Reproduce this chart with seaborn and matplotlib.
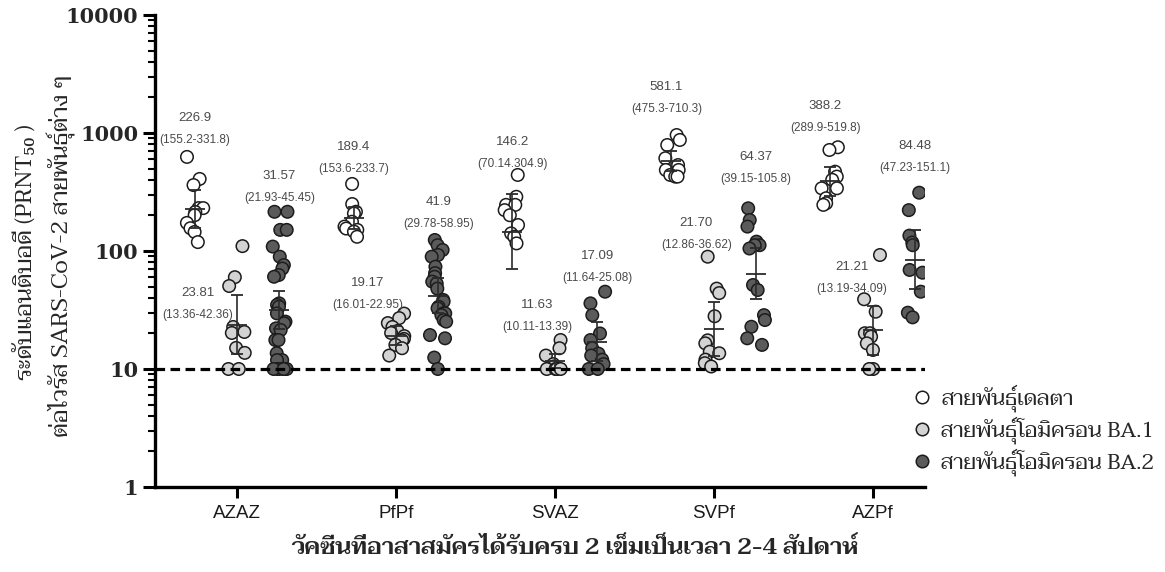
import numpy as np
import pandas as pd
import matplotlib
matplotlib.use("Agg")
import matplotlib.pyplot as plt
import seaborn as sns
from matplotlib import font_manager as fm
from matplotlib.ft2font import FT2Font
from matplotlib.font_manager import FontProperties
from matplotlib.ticker import FixedLocator, LogLocator, NullFormatter

# ---------------- data ----------------
groups = ["AZAZ", "PfPf", "SVAZ", "SVPf", "AZPf"]
strains = ["สายพันธุ์เดลตา", "สายพันธุ์โอมิครอน BA.1", "สายพันธุ์โอมิครอน BA.2"]

delta_AZAZ = [627, 408, 362, 231, 231, 214, 201, 173, 156, 145, 119]
ba1_AZAZ = [110, 60, 50.5, 22.7, 20.6, 20.2, 15.1, 13.7, 10, 10]
ba2_AZAZ = [215, 215, 151, 151, 109, 89.5, 76, 71, 62.6, 60.5, 36, 34.9, 33.7, 29.6,
            25.2, 24.4, 22.1, 21.4, 17.6, 17.6, 13.6, 11.9, 11.9, 10, 10, 10, 10, 10, 10]
delta_PfPf = [370, 250, 215, 208, 177, 161, 155, 151, 146, 132]
ba1_PfPf = [29.5, 27, 24.5, 22.7, 21, 20.2, 19, 18, 17.5, 16, 15, 13]
ba2_PfPf = [124, 112, 102, 92.5, 89.5, 73.6, 65, 60.5, 55, 53, 48, 38.5, 37.2, 33.7,
            32.7, 29.6, 29.6, 28.6, 26, 25.2, 19.4, 18.2, 12.5, 10]
delta_SVAZ = [441, 288, 246, 246, 222, 201, 166, 141, 132, 116]
ba1_SVAZ = [17.6, 15, 13, 11, 10.5, 10, 10, 10, 10]
ba2_SVAZ = [45.2, 36, 28.6, 20, 17.6, 15, 13.5, 13, 12, 11, 10, 10]
delta_SVPf = [961, 873, 791, 611, 535, 486, 486, 441, 427, 427]
ba1_SVPf = [89.5, 48, 44, 28, 17.5, 16.5, 14, 13.6, 12, 11.2, 10.5]
ba2_SVPf = [230, 183, 161, 120, 112, 112, 105, 51.5, 46.7, 28.6, 26, 22.8, 18.2, 16]
delta_AZPf = [757, 718, 470, 427, 401, 340, 340, 280, 254, 246]
ba1_AZPf = [92.5, 39, 30.6, 20.1, 20.1, 18.8, 16.5, 14.5, 10, 10]
ba2_AZPf = [312, 222, 135, 118, 112, 69.1, 65.5, 45.2, 30, 27.4]

# geometric mean titres and 95% CI (as printed)
gmt_delta = [226.9, 189.4, 146.2, 581.1, 388.2]
lo_delta = [155.2, 153.6, 70.14, 475.3, 289.9]
hi_delta = [331.8, 233.7, 304.9, 710.3, 519.8]
gmt_ba1 = [23.81, 19.17, 11.63, 21.70, 21.21]
lo_ba1 = [13.36, 16.01, 10.11, 12.86, 13.19]
hi_ba1 = [42.36, 22.95, 13.39, 36.62, 34.09]
gmt_ba2 = [31.57, 41.9, 17.09, 64.37, 84.48]
lo_ba2 = [21.93, 29.78, 11.64, 39.15, 47.23]
hi_ba2 = [45.45, 58.95, 25.08, 105.8, 151.1]

gmt_text_delta = ["226.9", "189.4", "146.2", "581.1", "388.2"]
ci_text_delta = ["(155.2-331.8)", "(153.6-233.7)", "(70.14.304.9)", "(475.3-710.3)", "(289.9-519.8)"]
gmt_text_ba1 = ["23.81", "19.17", "11.63", "21.70", "21.21"]
ci_text_ba1 = ["(13.36-42.36)", "(16.01-22.95)", "(10.11-13.39)", "(12.86-36.62)", "(13.19-34.09)"]
gmt_text_ba2 = ["31.57", "41.9", "17.09", "64.37", "84.48"]
ci_text_ba2 = ["(21.93-45.45)", "(29.78-58.95)", "(11.64-25.08)", "(39.15-105.8)", "(47.23-151.1)"]

ytick_vals = [1, 10, 100, 1000, 10000]
ytick_labels = ["1", "10", "100", "1000", "10000"]
threshold = 10

ylabel_1 = "ระดับแอนติบอดี (PRNT₅₀ )"
ylabel_2 = "ต่อไวรัส SARS-CoV-2 สายพันธุ์ต่าง ๆ"
xlabel = "วัคซีนที่อาสาสมัครได้รับครบ 2 เข็มเป็นเวลา 2-4 สัปดาห์"

# ---------------- layout (not data) ----------------
lab_y = [[1340, 760, 839, 2455, 1694],
         [44.1, 53.6, 34.8, 173, 73.1],
         [432, 260, 90.8, 626, 776]]
lab_dx = [[0, 0, 0, -0.03, -0.03],
          [-0.245, -0.18, -0.11, -0.11, -0.13],
          [0, 0, 0, 0, 0]]
colors = ["#ffffff", "#d3d3d3", "#5b5b5b"]

# ---------------- build table ----------------
series = {
    strains[0]: [delta_AZAZ, delta_PfPf, delta_SVAZ, delta_SVPf, delta_AZPf],
    strains[1]: [ba1_AZAZ, ba1_PfPf, ba1_SVAZ, ba1_SVPf, ba1_AZPf],
    strains[2]: [ba2_AZAZ, ba2_PfPf, ba2_SVAZ, ba2_SVPf, ba2_AZPf],
}
rows = []
for s in strains:
    for g, vals in zip(groups, series[s]):
        for v in vals:
            rows.append({"group": g, "strain": s, "titre": v})
df = pd.DataFrame(rows)

# ---------------- fonts ----------------
sns.set_theme(style="ticks")


def font_has(path, text):
    try:
        cmap = FT2Font(path).get_charmap()
    except Exception:
        return False
    return all(ord(c) in cmap for c in text if not c.isspace())


thai_names = []
for fe in fm.fontManager.ttflist:
    if fe.name not in thai_names and font_has(fe.fname, "สายพันธุ์"):
        thai_names.append(fe.name)
pref = ["Taviraj", "Noto Serif Thai", "FreeSerif", "Trirong", "Sarabun", "Loma"]
thai = next((p for p in pref if p in thai_names), thai_names[0] if thai_names else None)
serif_fam = ([thai] if thai else []) + ["DejaVu Serif"]

plt.rcParams["font.family"] = ["DejaVu Sans"]

# ---------------- plot ----------------
W, H = 1165, 572
fig = plt.figure(figsize=(W / 100, H / 100), dpi=100)
ax = fig.add_axes([155 / W, 85 / H, (925 - 155) / W, (487 - 15) / H])

np.random.seed(7)
sns.stripplot(data=df, x="group", y="titre", hue="strain", order=groups,
              hue_order=strains, palette=colors, dodge=True, jitter=0.17,
              size=9, edgecolor="#1c1c1c", linewidth=1.1, log_scale=True,
              ax=ax, zorder=3)

offs = np.linspace(-0.8 / 3, 0.8 / 3, 3)
gmts = [gmt_delta, gmt_ba1, gmt_ba2]
los = [lo_delta, lo_ba1, lo_ba2]
his = [hi_delta, hi_ba1, hi_ba2]
gtx = [gmt_text_delta, gmt_text_ba1, gmt_text_ba2]
ctx = [ci_text_delta, ci_text_ba1, ci_text_ba2]
for j in range(3):
    xs = np.arange(len(groups)) + offs[j]
    g = np.array(gmts[j])
    err = np.vstack([g - np.array(los[j]), np.array(his[j]) - g])
    ax.errorbar(xs, g, yerr=err, fmt="_", color="#2b2b2b", markersize=15,
                markeredgewidth=1.3, elinewidth=1.2, capsize=4.5, capthick=1.2,
                zorder=5)
    for i in range(len(groups)):
        x = xs[i] + lab_dx[j][i]
        ax.text(x, lab_y[j][i], gtx[j][i], ha="center", va="center",
                fontsize=9.5, color="#4a4a4a", family="Liberation Sans")
        ax.annotate(ctx[j][i], (x, lab_y[j][i]), xytext=(0, -15.8),
                    textcoords="offset points", ha="center", va="center",
                    fontsize=8.5, color="#4a4a4a", family="Liberation Sans")

ax.axhline(threshold, color="black", lw=2.3, ls=(0, (3.0, 1.7)), zorder=6)

ax.set_ylim(1, 10000)
ax.set_xlim(-0.516, 4.33)
ax.yaxis.set_major_locator(FixedLocator(ytick_vals))
ax.set_yticklabels(ytick_labels)
ax.yaxis.set_minor_locator(LogLocator(base=10, subs=np.arange(2, 10)))
ax.yaxis.set_minor_formatter(NullFormatter())
for lab in ax.get_yticklabels():
    lab.set_fontfamily("DejaVu Serif")
    lab.set_fontweight("bold")
    lab.set_fontsize(15)
for lab in ax.get_xticklabels():
    lab.set_fontfamily("Liberation Sans")
    lab.set_fontsize(13.5)
    lab.set_color("#1a1a1a")
ax.tick_params(axis="y", which="major", length=9, width=2.2, pad=3, color="black")
ax.tick_params(axis="y", which="minor", length=5, width=1.5, color="black")
ax.tick_params(axis="x", which="major", length=8, width=2.2, pad=5, color="black")
ax.set_xlabel("")
ax.set_ylabel("")
for side in ["top", "right"]:
    ax.spines[side].set_visible(False)
for side in ["left", "bottom"]:
    ax.spines[side].set_linewidth(2.4)
    ax.spines[side].set_color("black")

handles, labels = ax.get_legend_handles_labels()
if ax.get_legend() is not None:
    ax.get_legend().remove()
fig.legend(handles, labels, loc="upper left", bbox_to_anchor=(898 / W, 1 - 376 / H),
           frameon=False, prop=FontProperties(family=serif_fam, size=15.5),
           handletextpad=0.2, labelspacing=0.2, borderaxespad=0, handlelength=1.4)

fig.text(25 / W, 1 - 252 / H, ylabel_1, rotation=90, ha="center", va="center",
         fontsize=16.8, family=serif_fam)
fig.text(62 / W, 1 - 256 / H, ylabel_2, rotation=90, ha="center", va="center",
         fontsize=16.8, family=serif_fam)
fig.text(575 / W, 1 - 548 / H, xlabel, ha="center", va="center", fontsize=17,
         fontweight="semibold", family=serif_fam)

fig.savefig("out.png", dpi=100)
